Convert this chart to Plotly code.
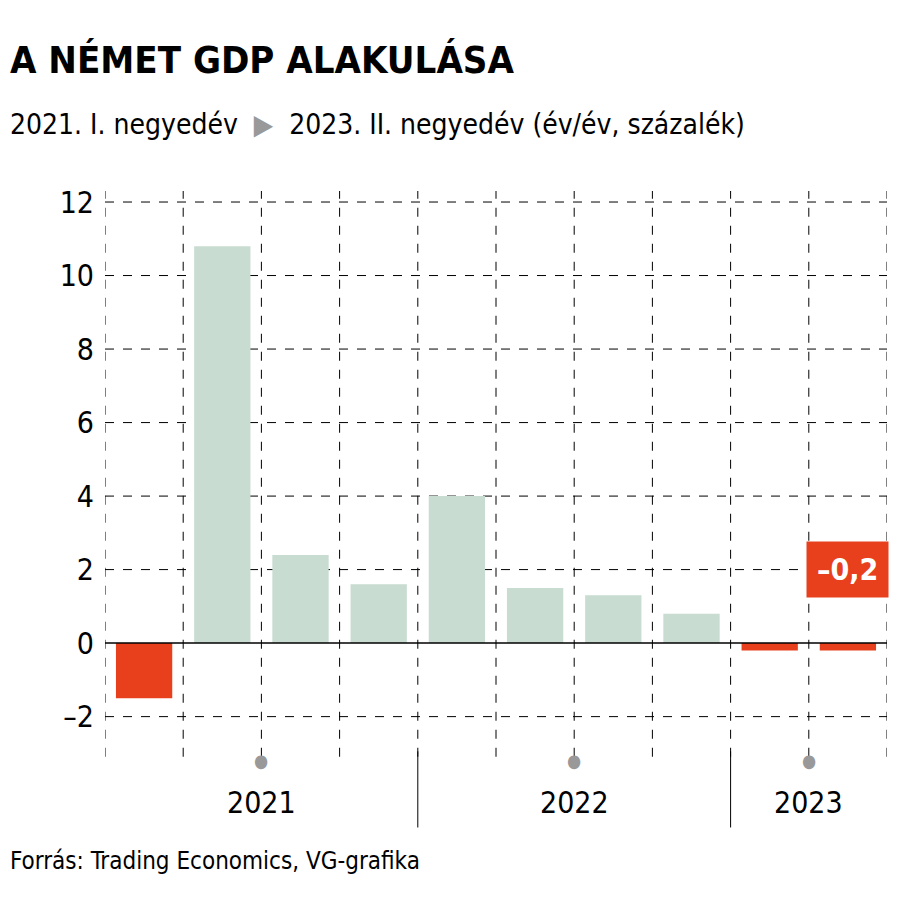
import plotly.graph_objects as go

quarters = ["2021 I.", "2021 II.", "2021 III.", "2021 IV.", "2022 I.", "2022 II.", "2022 III.", "2022 IV.", "2023 I.", "2023 II."]
values = [-1.5, 10.8, 2.4, 1.6, 4.0, 1.5, 1.3, 0.8, -0.2, -0.2]
years = ["2021", "2022", "2023"]
year_pos = [1.5, 5.5, 8.5]
separators = [3.5, 7.5]
yticks = [-2, 0, 2, 4, 6, 8, 10, 12]
ytick_text = ["–2", "0", "2", "4", "6", "8", "10", "12"]

RED = "#e8401c"
GREEN = "#c8dcd1"
FONT = "DejaVu Sans Condensed"
x = list(range(len(values)))
colors = [RED if v < 0 else GREEN for v in values]

fig = go.Figure(go.Bar(x=x, y=values, marker_color=colors, width=0.72, marker_line_width=0))

for i in range(len(values) + 1):
    fig.add_shape(type="line", xref="x", yref="paper", x0=i - 0.5, x1=i - 0.5, y0=-0.04, y1=1,
                  line=dict(color="black", width=1, dash="dash"), layer="below")
for t in yticks:
    if t != 0:
        fig.add_shape(type="line", xref="paper", yref="y", x0=0, x1=1, y0=t, y1=t,
                      line=dict(color="black", width=1, dash="dash"), layer="below")
fig.add_shape(type="line", xref="paper", yref="y", x0=0, x1=1, y0=0, y1=0, line=dict(color="black", width=1.5))

for s in separators:
    fig.add_shape(type="line", xref="x", yref="paper", x0=s, x1=s, y0=-0.03, y1=-0.17,
                  line=dict(color="black", width=1))
for yp, lab in zip(year_pos, years):
    fig.add_annotation(x=yp, y=-0.07, xref="x", yref="paper", text="●", showarrow=False,
                       font=dict(size=18, color="#999999", family=FONT))
    fig.add_annotation(x=yp, y=-0.16, xref="x", yref="paper", text=lab, showarrow=False,
                       font=dict(size=30, color="black", family=FONT))

fig.add_annotation(x=9, y=2.0, xref="x", yref="y", text="<b>–0,2</b>", showarrow=False,
                   font=dict(size=30, color="white", family=FONT), bgcolor=RED, borderpad=10)

fig.add_annotation(x=0, y=1, xref="paper", yref="paper", xanchor="left", yanchor="top",
                   text="<b>A NÉMET GDP ALAKULÁSA</b>", showarrow=False,
                   font=dict(size=38, family=FONT, color="black"), xshift=-97, yshift=155)
fig.add_annotation(x=0, y=1, xref="paper", yref="paper", xanchor="left", yanchor="top",
                   text="2021. I. negyedév  <span style='color:#999999'>▶</span>  2023. II. negyedév (év/év, százalék)",
                   showarrow=False, font=dict(size=28, family=FONT, color="black"), xshift=-97, yshift=85)
fig.add_annotation(x=0, y=0, xref="paper", yref="paper", xanchor="left", yanchor="top",
                   text="Forrás: Trading Economics, VG-grafika", showarrow=False,
                   font=dict(size=24, family=FONT, color="black"), xshift=-97, yshift=-110)

fig.update_layout(
    width=900, height=900, plot_bgcolor="white", paper_bgcolor="white",
    margin=dict(l=97, r=21, t=183, b=173), showlegend=False, bargap=0.28,
    xaxis=dict(range=[-0.5, 9.5], showticklabels=False, showgrid=False, zeroline=False),
    yaxis=dict(range=[-2.5, 12.3], tickvals=yticks, ticktext=ytick_text, showgrid=False,
               zeroline=False, tickfont=dict(size=30, family=FONT, color="black"), ticklabelstandoff=10),
    font=dict(family=FONT),
)
fig.write_html("out.html")
